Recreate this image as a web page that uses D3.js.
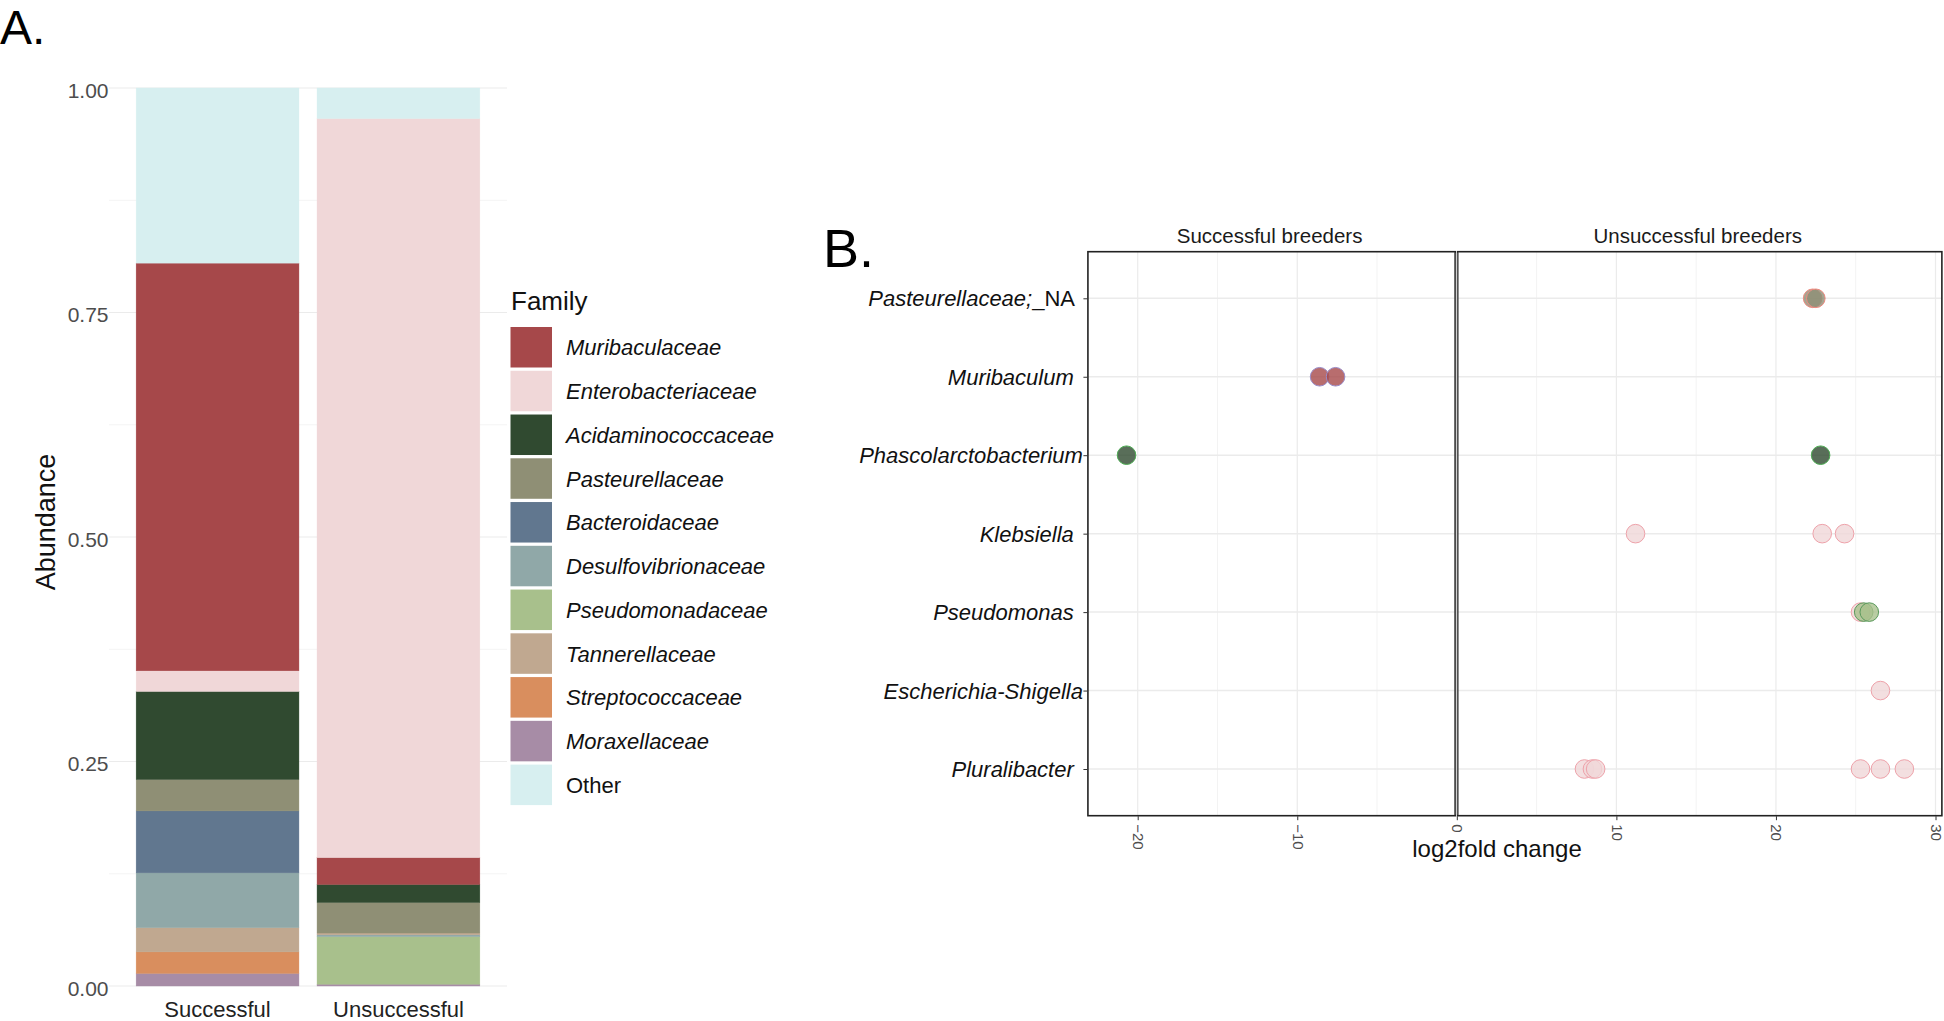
<!DOCTYPE html>
<html>
<head>
<meta charset="utf-8">
<script src="https://cdn.jsdelivr.net/npm/d3@7"></script>
<style>
  html, body { margin: 0; padding: 0; background: #ffffff; }
  svg { display: block; font-family: "Liberation Sans", Arial, sans-serif; }
  .pre { white-space: pre; }
</style>
</head>
<body>
<svg id="chart" width="1944" height="1021"></svg>
<script>
// ---------------- DATA ----------------
// Panel A: relative abundance per group
const groups = ["Successful", "Unsuccessful"];
const families = ["Muribaculaceae", "Enterobacteriaceae", "Acidaminococcaceae", "Pasteurellaceae",
  "Bacteroidaceae", "Desulfovibrionaceae", "Pseudomonadaceae", "Tannerellaceae",
  "Streptococcaceae", "Moraxellaceae", "Other"];
// stack order bottom -> top
const successfulFamilies = ["Moraxellaceae", "Streptococcaceae", "Tannerellaceae", "Desulfovibrionaceae",
  "Bacteroidaceae", "Pasteurellaceae", "Acidaminococcaceae", "Enterobacteriaceae", "Muribaculaceae", "Other"];
const successfulValues = [0.014, 0.024, 0.027, 0.061, 0.069, 0.035, 0.098, 0.023, 0.454, 0.195];
const unsuccessfulFamilies = ["Moraxellaceae", "Pseudomonadaceae", "Desulfovibrionaceae", "Tannerellaceae",
  "Pasteurellaceae", "Acidaminococcaceae", "Muribaculaceae", "Enterobacteriaceae", "Other"];
const unsuccessfulValues = [0.002, 0.053, 0.002, 0.002, 0.034, 0.020, 0.030, 0.823, 0.034];
const abundanceTicks = [0, 0.25, 0.5, 0.75, 1];

// Panel B: log2 fold change per genus
const facets = ["Successful breeders", "Unsuccessful breeders"];
const genera = ["Pasteurellaceae;_NA", "Muribaculum", "Phascolarctobacterium", "Klebsiella",
  "Pseudomonas", "Escherichia-Shigella", "Pluralibacter"];
const pointGenus = ["Phascolarctobacterium", "Muribaculum", "Muribaculum",
  "Pasteurellaceae;_NA", "Pasteurellaceae;_NA", "Phascolarctobacterium",
  "Klebsiella", "Klebsiella", "Klebsiella",
  "Pseudomonas", "Pseudomonas", "Pseudomonas",
  "Escherichia-Shigella",
  "Pluralibacter", "Pluralibacter", "Pluralibacter", "Pluralibacter", "Pluralibacter", "Pluralibacter"];
const pointFamily = ["Acidaminococcaceae", "Muribaculaceae", "Muribaculaceae",
  "Pasteurellaceae", "Pasteurellaceae", "Acidaminococcaceae",
  "Enterobacteriaceae", "Enterobacteriaceae", "Enterobacteriaceae",
  "Enterobacteriaceae", "Pseudomonadaceae", "Pseudomonadaceae",
  "Enterobacteriaceae",
  "Enterobacteriaceae", "Enterobacteriaceae", "Enterobacteriaceae", "Enterobacteriaceae", "Enterobacteriaceae", "Enterobacteriaceae"];
const pointLFC = [-20.7, -8.6, -7.6,
  22.3, 22.5, 22.8,
  11.2, 22.9, 24.3,
  25.3, 25.5, 25.85,
  26.55,
  8.0, 8.5, 8.7, 25.3, 26.55, 28.05];
const lfcTicks = [-20, -10, 0, 10, 20, 30];
const lfcMinorTicks = [-15, -5, 5, 15, 25];

// ---------------- STYLE ----------------
const familyColor = d3.scaleOrdinal(families, ["#a6484a", "#f0d7d8", "#304a30", "#8f8f75", "#61778f",
  "#90a8a8", "#a8c08c", "#c0a890", "#d98e5e", "#a78ca6", "#d7eff0"]);
const outlineColor = d3.scaleOrdinal(
  ["Muribaculaceae", "Enterobacteriaceae", "Acidaminococcaceae", "Pasteurellaceae", "Pseudomonadaceae"],
  ["#9a8cc8", "#eea2aa", "#4fae55", "#ee8a80", "#5a9a5c"]);

const svg = d3.select("#chart");
svg.append("rect").attr("width", 1944).attr("height", 1021).attr("fill", "#fff");

// ================= PANEL A =================
const yA = d3.scaleLinear([0, 1], [986, 88]);
const xA = d3.scaleBand(groups, [109, 507]).paddingInner(0.1).paddingOuter(0.15);
const gA = svg.append("g");

// grid
const minorA = d3.range(0.125, 1, 0.25);
gA.selectAll(".minA").data(minorA).join("line")
  .attr("x1", 109).attr("x2", 507).attr("y1", d => yA(d)).attr("y2", d => yA(d))
  .attr("stroke", "#f4f4f4").attr("stroke-width", 1);
gA.selectAll(".majA").data(abundanceTicks).join("line")
  .attr("x1", 109).attr("x2", 507).attr("y1", d => yA(d)).attr("y2", d => yA(d))
  .attr("stroke", "#ebebeb").attr("stroke-width", 1.2);

// stacked bars
function stackSegments(names, vals) {
  let acc = 0;
  return names.map((n, i) => { const s = { family: n, y0: acc, y1: acc + vals[i] }; acc += vals[i]; return s; });
}
const barData = [
  { group: "Successful", segs: stackSegments(successfulFamilies, successfulValues) },
  { group: "Unsuccessful", segs: stackSegments(unsuccessfulFamilies, unsuccessfulValues) }
];
barData.forEach(b => {
  gA.append("g").selectAll("rect").data(b.segs).join("rect")
    .attr("x", xA(b.group)).attr("width", xA.bandwidth())
    .attr("y", d => yA(d.y1)).attr("height", d => yA(d.y0) - yA(d.y1))
    .attr("fill", d => familyColor(d.family))
    .attr("stroke", d => familyColor(d.family)).attr("stroke-width", 0.4);
});

// y tick labels
gA.selectAll(".ytA").data(abundanceTicks).join("text")
  .attr("x", 108.5).attr("y", d => yA(d) + 9.5)
  .attr("text-anchor", "end").attr("font-size", 21).attr("fill", "#4d4d4d")
  .text(d3.format(".2f"));
// x tick labels
gA.selectAll(".xtA").data(groups).join("text")
  .attr("x", d => xA(d) + xA.bandwidth() / 2).attr("y", 1017)
  .attr("text-anchor", "middle").attr("font-size", 22).attr("fill", "#222")
  .text(d => d);
// y title
gA.append("text").attr("transform", "translate(55,522) rotate(-90)")
  .attr("text-anchor", "middle").attr("font-size", 27).attr("fill", "#111").text("Abundance");
// panel letter
svg.append("text").attr("x", 0).attr("y", 43.5).attr("font-size", 48).attr("fill", "#000").text("A.");

// legend
const leg = svg.append("g");
leg.append("text").attr("x", 511).attr("y", 310).attr("font-size", 26).attr("fill", "#111").text("Family");
const legStep = 43.76;
const legY = d3.scaleBand(families, [326.5, 326.5 + legStep * families.length]);
leg.selectAll("rect").data(families).join("rect")
  .attr("x", 510.5).attr("y", d => legY(d) + 0.5).attr("width", 41.5).attr("height", 40.5)
  .attr("fill", d => familyColor(d));
leg.selectAll(".lt").data(families).join("text")
  .attr("x", 566).attr("y", d => legY(d) + 20.75 + 8)
  .attr("font-size", 22).attr("fill", "#111")
  .attr("font-style", d => d === "Other" ? "normal" : "italic")
  .text(d => d);

// ================= PANEL B =================
const xB = d3.scaleLinear([-20, 30], [1137.7, 1935.5]);
const yB = d3.scalePoint(genera, [298.3, 769]);
const panelTop = 251.7, panelBottom = 815.7;
const panels = [
  { name: facets[0], x0: xB(-23.12), x1: xB(-0.1) },
  { name: facets[1], x0: xB(0.05), x1: xB(30.4) }
];
const gB = svg.append("g");

panels.forEach((p, pi) => {
  const inDom = v => xB(v) > p.x0 + 1 && xB(v) < p.x1 - 1;
  gB.append("g").selectAll("line").data(lfcMinorTicks.filter(inDom)).join("line")
    .attr("x1", d => xB(d)).attr("x2", d => xB(d)).attr("y1", panelTop).attr("y2", panelBottom)
    .attr("stroke", "#f3f3f3").attr("stroke-width", 1);
  gB.append("g").selectAll("line").data(lfcTicks.filter(inDom)).join("line")
    .attr("x1", d => xB(d)).attr("x2", d => xB(d)).attr("y1", panelTop).attr("y2", panelBottom)
    .attr("stroke", "#ebebeb").attr("stroke-width", 1.2);
  gB.append("g").selectAll("line").data(genera).join("line")
    .attr("x1", p.x0).attr("x2", p.x1).attr("y1", d => yB(d)).attr("y2", d => yB(d))
    .attr("stroke", "#ebebeb").attr("stroke-width", 1.5);
  // strip title
  gB.append("text").attr("x", (p.x0 + p.x1) / 2 - 2).attr("y", 243)
    .attr("text-anchor", "middle").attr("font-size", 20.5).attr("fill", "#1a1a1a").text(p.name);
});

// points
const pts = pointLFC.map((v, i) => ({ v, genus: pointGenus[i], family: pointFamily[i] }));
gB.append("g").selectAll("circle").data(pts).join("circle")
  .attr("cx", d => xB(d.v)).attr("cy", d => yB(d.genus)).attr("r", 9.3)
  .attr("fill", d => familyColor(d.family)).attr("fill-opacity", 0.8)
  .attr("stroke", d => outlineColor(d.family)).attr("stroke-width", 1);

// panel borders
panels.forEach((p) => {
  gB.append("rect").attr("x", p.x0).attr("y", panelTop).attr("width", p.x1 - p.x0).attr("height", panelBottom - panelTop)
    .attr("fill", "none").attr("stroke", "#222").attr("stroke-width", 1.6);
});
// inner divider lines lighter
gB.append("line").attr("x1", panels[0].x1).attr("x2", panels[0].x1).attr("y1", panelTop + 1).attr("y2", panelBottom - 1)
  .attr("stroke", "#555").attr("stroke-width", 1.2);
gB.append("line").attr("x1", panels[1].x0).attr("x2", panels[1].x0).attr("y1", panelTop + 1).attr("y2", panelBottom - 1)
  .attr("stroke", "#555").attr("stroke-width", 1.2);

// y axis ticks and labels
const yAxisB = d3.axisLeft(yB).tickSize(4).tickPadding(6);
const gy = gB.append("g").attr("transform", `translate(${panels[0].x0 - 0.5},0)`).call(yAxisB);
gy.select(".domain").remove();
gy.selectAll(".tick line").attr("stroke", "#333").attr("stroke-width", 1);
gy.selectAll(".tick text").remove();
const trailing = new Set(["Pasteurellaceae;_NA", "Muribaculum", "Klebsiella", "Pseudomonas", "Pluralibacter"]);
const ylab = gB.append("g").selectAll("text").data(genera).join("text")
  .attr("class", "pre")
  .attr("x", d => panels[0].x0 - (trailing.has(d) ? 8 : 5)).attr("y", d => yB(d) + 8)
  .attr("text-anchor", "end").attr("font-size", 22).attr("fill", "#111")
  .attr("font-family", "'Liberation Sans', Arial, sans-serif");
ylab.each(function (d) {
  const t = d3.select(this);
  if (d.includes(";_NA")) {
    t.append("tspan").attr("font-style", "italic").text("Pasteurellaceae;");
    t.append("tspan").attr("class", "pre").text("_NA ");
  } else {
    t.append("tspan").attr("class", "pre").attr("font-style", "italic").text(trailing.has(d) ? d + " " : d);
  }
});

// x axis ticks + rotated labels
const xAxisB = d3.axisBottom(xB).tickValues(lfcTicks).tickSize(4).tickPadding(0);
const gx = gB.append("g").attr("transform", `translate(0,${panelBottom + 0.5})`).call(xAxisB);
gx.select(".domain").remove();
gx.selectAll(".tick line").attr("stroke", "#333");
gx.selectAll(".tick text")
  .attr("transform", "rotate(90)").attr("x", 8).attr("y", 0).attr("dy", "0.35em")
  .attr("text-anchor", "start").attr("font-size", 15).attr("fill", "#4d4d4d")
  .attr("font-family", "'Liberation Sans', Arial, sans-serif")
  .text(d => d3.format("d")(d));

// x title
gB.append("text").attr("x", 1497).attr("y", 857).attr("text-anchor", "middle")
  .attr("font-size", 24).attr("fill", "#111").text("log2fold change");
// panel letter
svg.append("text").attr("x", 823).attr("y", 267).attr("font-size", 54).attr("fill", "#000").text("B.");
</script>
</body>
</html>
